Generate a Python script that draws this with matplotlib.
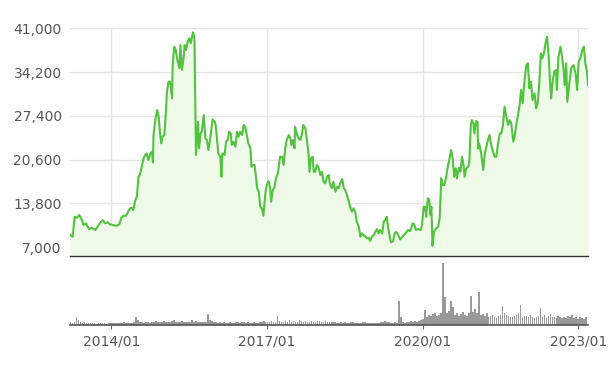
import numpy as np
import matplotlib
matplotlib.use("Agg")
import matplotlib.pyplot as plt

# ── price series (decimal year, close price)
dates = [
    2013.20, 2013.25, 2013.29, 2013.33, 2013.38, 2013.43, 2013.46, 2013.51, 2013.54, 2013.57,
    2013.62, 2013.69, 2013.75, 2013.80, 2013.83, 2013.88, 2013.93, 2013.97, 2014.04, 2014.10,
    2014.15, 2014.19, 2014.23, 2014.28, 2014.32, 2014.36, 2014.39, 2014.42, 2014.46, 2014.49,
    2014.52, 2014.55, 2014.59, 2014.62, 2014.65, 2014.68, 2014.71, 2014.75, 2014.78, 2014.80,
    2014.81, 2014.84, 2014.88, 2014.91, 2014.94, 2014.96, 2014.98, 2015.02, 2015.05, 2015.07,
    2015.10, 2015.13, 2015.17, 2015.18, 2015.21, 2015.24, 2015.27, 2015.31, 2015.33, 2015.36,
    2015.39, 2015.41, 2015.44, 2015.47, 2015.50, 2015.53, 2015.57, 2015.60, 2015.61, 2015.63,
    2015.67, 2015.69, 2015.72, 2015.74, 2015.78, 2015.81, 2015.84, 2015.87, 2015.90, 2015.95,
    2015.99, 2016.01, 2016.06, 2016.10, 2016.12, 2016.14, 2016.18, 2016.21, 2016.24, 2016.27,
    2016.30, 2016.32, 2016.35, 2016.39, 2016.42, 2016.45, 2016.48, 2016.52, 2016.55, 2016.58,
    2016.61, 2016.64, 2016.68, 2016.70, 2016.72, 2016.76, 2016.79, 2016.81, 2016.84, 2016.87,
    2016.90, 2016.93, 2016.97, 2017.00, 2017.03, 2017.06, 2017.08, 2017.11, 2017.14, 2017.17,
    2017.21, 2017.25, 2017.29, 2017.32, 2017.35, 2017.38, 2017.42, 2017.45, 2017.47, 2017.50,
    2017.53, 2017.54, 2017.58, 2017.61, 2017.64, 2017.67, 2017.70, 2017.74, 2017.77, 2017.80,
    2017.82, 2017.85, 2017.88, 2017.90, 2017.93, 2017.96, 2017.99, 2018.03, 2018.06, 2018.09,
    2018.12, 2018.16, 2018.19, 2018.21, 2018.25, 2018.28, 2018.32, 2018.35, 2018.38, 2018.41,
    2018.45, 2018.48, 2018.51, 2018.54, 2018.57, 2018.61, 2018.64, 2018.67, 2018.70, 2018.73,
    2018.77, 2018.80, 2018.83, 2018.86, 2018.90, 2018.93, 2018.96, 2018.99, 2019.02, 2019.06,
    2019.09, 2019.12, 2019.15, 2019.18, 2019.22, 2019.25, 2019.28, 2019.31, 2019.33, 2019.36,
    2019.39, 2019.43, 2019.46, 2019.49, 2019.53, 2019.57, 2019.61, 2019.67, 2019.72, 2019.76,
    2019.81, 2019.84, 2019.87, 2019.91, 2019.96, 2019.99, 2020.02, 2020.05, 2020.07, 2020.10,
    2020.13, 2020.15, 2020.17, 2020.19, 2020.22, 2020.26, 2020.30, 2020.33, 2020.36, 2020.39,
    2020.42, 2020.45, 2020.48, 2020.52, 2020.55, 2020.58, 2020.61, 2020.64, 2020.66, 2020.70,
    2020.73, 2020.76, 2020.79, 2020.81, 2020.84, 2020.88, 2020.90, 2020.93, 2020.95, 2020.98,
    2021.00, 2021.03, 2021.06, 2021.07, 2021.09, 2021.13, 2021.17, 2021.20, 2021.23, 2021.26,
    2021.29, 2021.33, 2021.36, 2021.39, 2021.42, 2021.46, 2021.49, 2021.52, 2021.55, 2021.58,
    2021.62, 2021.65, 2021.68, 2021.71, 2021.75, 2021.78, 2021.81, 2021.84, 2021.87, 2021.90,
    2021.93, 2021.96, 2022.00, 2022.03, 2022.06, 2022.09, 2022.12, 2022.16, 2022.19, 2022.22,
    2022.25, 2022.28, 2022.31, 2022.34, 2022.37, 2022.40, 2022.43, 2022.46, 2022.48, 2022.51,
    2022.54, 2022.57, 2022.59, 2022.62, 2022.66, 2022.69, 2022.72, 2022.74, 2022.77, 2022.79,
    2022.83, 2022.87, 2022.91, 2022.95, 2022.98, 2023.01, 2023.04, 2023.08, 2023.11, 2023.14,
    2023.17, 2023.19,
]
prices = [
    8960, 8600, 11700, 11550, 11970, 11190, 10410, 10680, 10150, 9790,
    10000, 9640, 10410, 10930, 11190, 10680, 10830, 10520, 10410, 10300,
    10520, 11550, 11860, 11860, 12480, 13010, 13110, 12750, 14300, 14810,
    17920, 18300, 19740, 20790, 21300, 21560, 20520, 21560, 21810, 20160,
    24400, 26480, 28300, 27250, 24410, 23120, 24140, 24410, 28030, 31140,
    32700, 32700, 30120, 35290, 38140, 37630, 36070, 34780, 38400, 34520,
    36330, 38400, 37630, 38920, 39450, 38670, 40380, 39450, 33740, 21300,
    26480, 22340, 24670, 24920, 27510, 23900, 23630, 22080, 23630, 26850,
    26480, 25970, 21560, 21030, 17920, 21560, 21300, 23370, 23630, 24920,
    24670, 22850, 23370, 22590, 24920, 24140, 24920, 24410, 25970, 25700,
    24410, 23120, 22340, 19480, 19740, 19740, 17670, 16120, 15590, 13260,
    13010, 11860, 15590, 16740, 17250, 16120, 14040, 15860, 16210, 17670,
    18450, 21030, 21030, 19740, 22340, 23630, 24410, 23900, 22850, 23630,
    22340, 25700, 24410, 23900, 23630, 24410, 25970, 25440, 23630, 21560,
    18700, 20790, 21030, 18700, 18700, 19740, 19480, 18190, 18700, 17150,
    16900, 17920, 18190, 16900, 16120, 17150, 15590, 16370, 16120, 16900,
    17570, 16120, 15860, 15080, 14300, 13010, 12480, 13010, 12480, 10930,
    10150, 8600, 9120, 8860, 8600, 8350, 8440, 7920, 8600, 8860,
    9370, 9790, 9120, 9640, 9120, 10930, 11190, 11700, 10410, 8860,
    7720, 7920, 9120, 9370, 8860, 8180, 8600, 9120, 9640, 9480,
    10680, 10520, 9640, 9790, 9640, 10410, 13260, 13260, 11700, 14560,
    14300, 11970, 13260, 7200, 9370, 9900, 10150, 11550, 17670, 16630,
    16630, 17670, 19230, 20790, 22080, 20790, 17920, 19230, 17670, 19330,
    18700, 21030, 19740, 17920, 19230, 19480, 20010, 25970, 26740, 26230,
    24670, 26580, 26480, 22340, 23120, 21560, 18970, 21560, 22590, 23630,
    24410, 22590, 21810, 21030, 21030, 23370, 24670, 24670, 25970, 28810,
    27000, 25970, 26740, 26230, 23370, 24410, 26230, 27510, 29070, 31410,
    29340, 32450, 35290, 35560, 31670, 32700, 29850, 30890, 28560, 29340,
    32450, 37110, 36330, 37110, 38670, 39700, 36850, 32450, 30120, 32960,
    34250, 34520, 31410, 36590, 38140, 36590, 34520, 32180, 35560, 29590,
    32450, 34870, 35290, 34010, 31410, 35810, 36330, 37630, 38140, 35560,
    34250, 32180,
]

# ── volume, one bar per two weeks (arbitrary units)
volume = [
    3, 2, 3, 8, 5, 3, 2, 3, 2, 2, 2, 2, 2, 1, 2, 2, 2, 2, 1, 2, 2,
    2, 2, 2, 2, 2, 2, 3, 2, 2, 2, 2, 3, 8, 5, 3, 3, 2, 3, 3, 2, 3, 3, 4, 3, 3, 3,
    4, 3, 3, 3, 4, 5, 3, 3, 3, 4, 3, 3, 3, 3, 5, 3, 4, 3, 3, 3, 3, 3, 11, 5, 4, 3,
    3, 2, 3, 2, 3, 2, 2, 3, 2, 2, 3, 3, 2, 3, 3, 2, 3, 2, 2, 3, 2, 2, 3, 3, 4, 3,
    3, 3, 4, 3, 3, 9, 4, 3, 3, 4, 3, 5, 3, 4, 3, 3, 5, 4, 3, 4, 3, 3, 4, 3, 3, 4,
    4, 3, 3, 4, 3, 3, 3, 3, 3, 2, 2, 3, 2, 3, 2, 2, 3, 3, 2, 2, 2, 2, 3, 3, 2, 2,
    2, 2, 2, 2, 2, 3, 3, 4, 3, 3, 2, 2, 3, 2, 24, 8, 3, 2, 3, 3, 4, 3, 4, 3, 4, 5,
    6, 15, 8, 10, 9, 11, 12, 9, 10, 12, 62, 28, 12, 14, 24, 18, 10, 12, 9, 11, 13, 10, 9, 12, 29, 13,
    16, 12, 33, 10, 11, 9, 12, 8, 9, 10, 8, 7, 9, 10, 19, 12, 10, 9, 8, 8, 9, 10, 12, 20, 8, 9,
    9, 8, 10, 8, 7, 8, 9, 17, 8, 10, 7, 9, 11, 8, 8, 7, 9, 8, 7, 8, 7, 9, 8, 10, 7, 8,
    6, 8, 7, 6, 8,
]
vol_step = 0.0384  # two weeks in years
vol_dates = 2013.21 + vol_step * np.arange(len(volume))

y_ticks = [7000, 13800, 20600, 27400, 34200, 41000]
x_ticks = [2014.0, 2017.0, 2020.0, 2023.0]
x_labels = ["2014/01", "2017/01", "2020/01", "2023/01"]

LINE = "#52c23f"
FILL = "#effbe9"
GRID = "#e5e5e5"
TEXT = "#555555"

fig = plt.figure(figsize=(6.13, 3.72), dpi=100)
ax = fig.add_axes([70 / 613, 1 - 255.7 / 372, 518 / 613, (255.7 - 28.3) / 372])
axv = fig.add_axes([70 / 613, 1 - 324.5 / 372, 518 / 613, 62.5 / 372], sharex=ax)

xmin, xmax = 2013.20, 2023.19
ybot = 5650

# price panel
ax.fill_between(dates, prices, ybot, color=FILL, linewidth=0)
ax.plot(dates, prices, color=LINE, linewidth=1.5)
ax.set_xlim(xmin, xmax)
ax.set_ylim(ybot, 41000)
ax.set_yticks(y_ticks)
ax.set_yticklabels([f"{v:,}" for v in y_ticks])
ax.set_xticks(x_ticks)
ax.tick_params(axis="y", length=0, pad=6, labelsize=10, labelcolor=TEXT)
ax.tick_params(axis="x", length=0, labelbottom=False)
ax.grid(True, color=GRID, linewidth=1)
ax.set_axisbelow(True)
for s in ["top", "right", "left"]:
    ax.spines[s].set_visible(False)
ax.spines["bottom"].set_color("#333333")
ax.spines["bottom"].set_linewidth(1)

# volume panel
axv.bar(vol_dates, volume, width=vol_step * 0.85, color="#999999", linewidth=0)
axv.set_ylim(0, 62.5)
axv.set_yticks([])
axv.set_xticks(x_ticks)
axv.set_xticklabels(x_labels)
axv.tick_params(axis="x", length=3, color="#666666", pad=4, labelsize=10, labelcolor=TEXT)
for s in ["top", "right", "left"]:
    axv.spines[s].set_visible(False)
axv.spines["bottom"].set_color("#555555")
axv.spines["bottom"].set_linewidth(1.2)
axv.set_xlim(xmin, xmax)

fig.savefig("out.png", dpi=100)
